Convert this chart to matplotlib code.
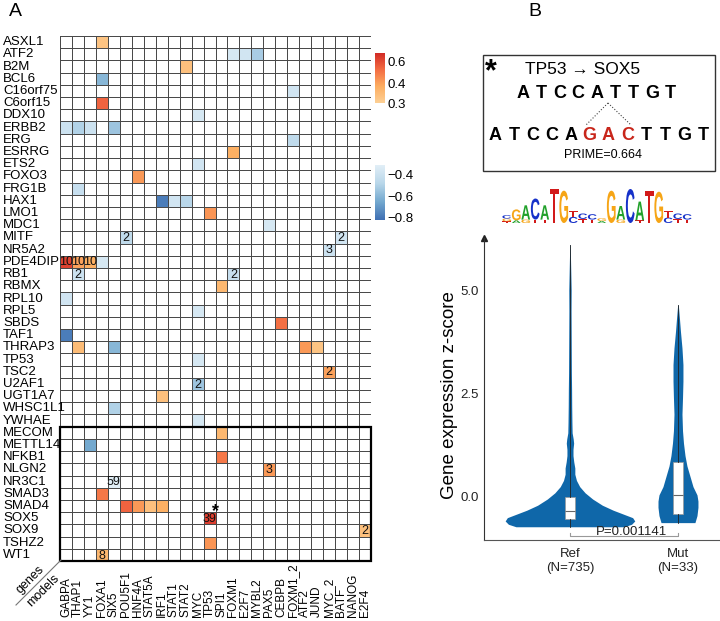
import numpy as np
import matplotlib
matplotlib.use("Agg")
import matplotlib.pyplot as plt
from matplotlib.colors import LinearSegmentedColormap, ListedColormap, Normalize
from matplotlib.patches import Rectangle, PathPatch
from matplotlib.lines import Line2D
from matplotlib.textpath import TextPath
from matplotlib.font_manager import FontProperties
from matplotlib.transforms import Affine2D, blended_transform_factory

plt.rcParams['font.family'] = ['Liberation Sans', 'DejaVu Sans']

# ---------------- panel A data ----------------
genes = ["ASXL1", "ATF2", "B2M", "BCL6", "C16orf75", "C6orf15", "DDX10", "ERBB2",
         "ERG", "ESRRG", "ETS2", "FOXO3", "FRG1B", "HAX1", "LMO1", "MDC1", "MITF",
         "NR5A2", "PDE4DIP", "RB1", "RBMX", "RPL10", "RPL5", "SBDS", "TAF1",
         "THRAP3", "TP53", "TSC2", "U2AF1", "UGT1A7", "WHSC1L1", "YWHAE",
         "MECOM", "METTL14", "NFKB1", "NLGN2", "NR3C1", "SMAD3", "SMAD4", "SOX5",
         "SOX9", "TSHZ2", "WT1"]
boxed_genes = 11  # last rows framed in bold

models = ["GABPA", "THAP1", "YY1", "FOXA1", "SIX5", "POU5F1", "HNF4A", "STAT5A",
          "IRF1", "STAT1", "STAT2", "MYC", "TP53", "SPI1", "FOXM1", "E2F7", "MYBL2",
          "PAX5", "CEBPB", "FOXM1_2", "ATF2", "JUND", "MYC_2", "BATF", "NANOG", "E2F4"]

# significant hits: gene, model, correlation, number of mutations (blank = 1)
hit_gene = ["ASXL1", "ATF2", "ATF2", "ATF2", "B2M", "BCL6", "C16orf75", "C6orf15",
            "DDX10", "ERBB2", "ERBB2", "ERBB2", "ERBB2", "ERG", "ESRRG", "ETS2",
            "FOXO3", "FRG1B", "HAX1", "HAX1", "HAX1", "LMO1", "MDC1", "MITF", "MITF",
            "NR5A2", "PDE4DIP", "PDE4DIP", "PDE4DIP", "PDE4DIP", "RB1", "RB1", "RBMX",
            "RPL10", "RPL5", "SBDS", "TAF1", "THRAP3", "THRAP3", "THRAP3", "THRAP3",
            "TP53", "TSC2", "U2AF1", "UGT1A7", "WHSC1L1", "YWHAE", "MECOM", "METTL14",
            "NFKB1", "NLGN2", "NR3C1", "SMAD3", "SMAD4", "SMAD4", "SMAD4", "SMAD4",
            "SOX5", "SOX9", "TSHZ2", "WT1"]
hit_model = ["FOXA1", "FOXM1", "E2F7", "MYBL2", "STAT2", "FOXA1", "FOXM1_2", "FOXA1",
             "MYC", "GABPA", "THAP1", "YY1", "SIX5", "FOXM1_2", "FOXM1", "MYC",
             "HNF4A", "THAP1", "IRF1", "STAT1", "STAT2", "TP53", "PAX5", "POU5F1", "BATF",
             "MYC_2", "GABPA", "THAP1", "YY1", "FOXA1", "THAP1", "FOXM1", "SPI1",
             "GABPA", "MYC", "CEBPB", "GABPA", "THAP1", "SIX5", "ATF2", "JUND",
             "MYC", "MYC_2", "MYC", "IRF1", "SIX5", "MYC", "SPI1", "YY1",
             "SPI1", "PAX5", "SIX5", "FOXA1", "POU5F1", "HNF4A", "STAT5A", "IRF1",
             "TP53", "E2F4", "TP53", "FOXA1"]
hit_corr = [0.33, -0.36, -0.38, -0.52, 0.34, -0.60, -0.38, 0.55,
            -0.36, -0.40, -0.50, -0.40, -0.55, -0.45, 0.38, -0.38,
            0.42, -0.42, -0.78, -0.38, -0.48, 0.43, -0.36, -0.45, -0.38,
            -0.40, 0.63, 0.40, 0.38, -0.36, -0.40, -0.42, 0.36,
            -0.38, -0.36, 0.52, -0.78, 0.35, -0.60, 0.42, 0.33,
            -0.36, 0.40, -0.55, 0.34, -0.50, -0.36, 0.36, -0.65,
            0.50, 0.42, -0.32, 0.50, 0.55, 0.42, 0.34, 0.38,
            0.64, 0.34, 0.43, 0.36]
hit_count = ["", "", "", "", "", "", "", "",
             "", "", "", "", "", "", "", "",
             "", "", "", "", "", "", "", "2", "2",
             "3", "10", "10", "10", "", "2", "2", "",
             "", "", "", "", "", "", "", "",
             "", "2", "2", "", "", "", "", "",
             "", "3", "59", "", "", "", "", "",
             "39", "2", "", "8"]
star_hit = ("SOX5", "TP53")

pos_ticks = [0.3, 0.4, 0.6]
neg_ticks = [-0.4, -0.6, -0.8]

# ---------------- panel B data ----------------
ref_seq = "ATCCATTGT"
mut_seq = "ATCCAGACTTGT"
mut_span = (5, 8)
prime_score = 0.664

logo_letters = ["TGC", "AG", "GA", "TC", "TA", "T", "G", "CT", "TC", "TC",
                "AG", "G", "GA", "C", "TA", "T", "G", "CT", "TC", "TC"]
logo_heights = [[0.05, 0.08, 0.10], [0.08, 0.32], [0.10, 0.42], [0.10, 0.62],
                [0.10, 0.42], [1.0], [0.95], [0.18, 0.18], [0.12, 0.16], [0.10, 0.16],
                [0.06, 0.08], [0.95], [0.10, 0.40], [1.0], [0.08, 0.55], [0.95],
                [0.92], [0.16, 0.18], [0.12, 0.16], [0.10, 0.16]]

groups = ["Ref\n(N=735)", "Mut\n(N=33)"]
ref_y = [-0.72, -0.66, -0.58, -0.50, -0.42, -0.32, -0.20, -0.05, 0.10, 0.25, 0.40,
         0.55, 0.70, 0.85, 1.00, 1.15, 1.30, 1.40, 1.55, 1.80, 2.20, 2.60, 3.00,
         3.50, 4.00, 4.50, 5.00, 5.50, 6.10]
ref_hw = [0.50, 0.57, 0.60, 0.58, 0.50, 0.40, 0.30, 0.21, 0.14, 0.09, 0.06,
          0.045, 0.045, 0.035, 0.028, 0.028, 0.034, 0.030, 0.020, 0.018, 0.016,
          0.015, 0.013, 0.012, 0.011, 0.010, 0.011, 0.007, 0.002]
mut_y = [-0.62, -0.45, -0.25, -0.10, 0.05, 0.25, 0.50, 0.75, 1.00, 1.30, 1.60,
         2.00, 2.40, 2.80, 3.20, 3.60, 4.00, 4.30, 4.64]
mut_hw = [0.157, 0.176, 0.185, 0.185, 0.176, 0.139, 0.111, 0.083, 0.065, 0.051,
          0.042, 0.037, 0.042, 0.046, 0.046, 0.037, 0.023, 0.014, 0.003]
ref_box = dict(q1=-0.53, med=-0.34, q3=0.0, whislo=-0.72, whishi=6.10)
mut_box = dict(q1=-0.41, med=0.05, q3=0.85, whislo=-0.62, whishi=4.64)
p_value = "P=0.001141"

# ---------------- figure ----------------
W, H = 720, 621
fig = plt.figure(figsize=(W / 100, H / 100), dpi=100)


def fx(px):
    return px / W


def fy(py):
    return 1 - py / H


def box(x0, y0, x1, y1):
    return [fx(x0), fy(y1), (x1 - x0) / W, (y1 - y0) / H]


# colour maps
pos_cmap = LinearSegmentedColormap.from_list("pos", ["#FDD095", "#FDAE61", "#F46D43", "#D22B26"])
neg_cmap = LinearSegmentedColormap.from_list("neg", ["#3F6FB3", "#74A9CF", "#B9D7EA", "#E2EFF7"])
pos_x, pos_f = [0.3, 0.4, 0.6, 0.69], [0.0, 0.4, 0.82, 1.0]
neg_lo, neg_hi = -0.82, -0.31

# ---- heatmap ----
ax = fig.add_axes(box(60, 36, 371, 561))
nr, nc = len(genes), len(models)
pos = np.full((nr, nc), np.nan)
neg = np.full((nr, nc), np.nan)
for g, m, v in zip(hit_gene, hit_model, hit_corr):
    r, c = genes.index(g), models.index(m)
    if v > 0:
        pos[r, c] = v
    else:
        neg[r, c] = v

grid_kw = dict(edgecolors="#4a4a4a", linewidth=0.7)
ax.pcolormesh(np.zeros((nr, nc)), cmap=ListedColormap(["white"]), **grid_kw)
ax.pcolormesh(np.ma.masked_invalid(np.interp(pos, pos_x, pos_f)), cmap=pos_cmap,
              norm=Normalize(0, 1), **grid_kw)
ax.pcolormesh(np.ma.masked_invalid(neg), cmap=neg_cmap,
              norm=Normalize(neg_lo, neg_hi), **grid_kw)
ax.set_xlim(0, nc)
ax.set_ylim(nr, 0)
ax.set_xticks([])
ax.set_yticks([])
for s in ax.spines.values():
    s.set_visible(False)

for g, m, lab in zip(hit_gene, hit_model, hit_count):
    if lab:
        ax.text(models.index(m) + 0.5, genes.index(g) + 0.55, lab, ha="center",
                va="center", fontsize=9, color="#111")
sr, sc = genes.index(star_hit[0]), models.index(star_hit[1])
ax.text(sc + 1.0, sr - 0.05, "*", ha="center", va="center", fontsize=13,
        fontweight="bold")

ax.add_patch(Rectangle((0, nr - boxed_genes), nc, boxed_genes, fill=False,
                       ec="black", lw=1.6, clip_on=False))

row_tr = blended_transform_factory(fig.transFigure, ax.transData)
for i, g in enumerate(genes):
    ax.text(fx(3), i + 0.5, g, transform=row_tr, ha="left", va="center", fontsize=9.5)
col_tr = blended_transform_factory(ax.transData, fig.transFigure)
for j, m in enumerate(models):
    ax.text(j + 0.5, fy(617), m, transform=col_tr, rotation=90, ha="center",
            va="bottom", fontsize=8.5)

# corner labels
fig.add_artist(Line2D([fx(61), fx(16)], [fy(560), fy(605)], color="#777", lw=0.8))
fig.text(fx(30), fy(580), "genes", rotation=45, ha="center", va="center", fontsize=9)
fig.text(fx(43), fy(591), "models", rotation=45, ha="center", va="center", fontsize=9)

# colour bars
grad = np.linspace(0, 1, 256)[:, None]
pcax = fig.add_axes(box(375, 53, 385, 103))
pcax.imshow(grad, cmap=pos_cmap, aspect="auto", origin="lower", extent=[0, 1, 0, 1])
pcax.set_xticks([])
pcax.yaxis.tick_right()
pcax.set_yticks(np.interp(pos_ticks, pos_x, pos_f), [f"{t:.1f}" for t in pos_ticks])
pcax.tick_params(length=0, labelsize=9.5, pad=2)
for s in pcax.spines.values():
    s.set_visible(False)

ncax = fig.add_axes(box(375, 165, 385, 220))
ncax.imshow(grad, cmap=neg_cmap, aspect="auto", origin="lower",
            extent=[0, 1, neg_lo, neg_hi])
ncax.set_xticks([])
ncax.yaxis.tick_right()
ncax.set_yticks(neg_ticks, [f"\u2212{abs(t):.1f}" for t in neg_ticks])
ncax.tick_params(length=0, labelsize=9.5, pad=2)
for s in ncax.spines.values():
    s.set_visible(False)

fig.text(fx(15), fy(12), "A", fontsize=14, ha="center", va="center")
fig.text(fx(535), fy(12), "B", fontsize=14, ha="center", va="center")

# ---- panel B: mutation box ----
fig.add_artist(Rectangle((fx(483), fy(171)), (715 - 483) / W, (171 - 55) / H,
                         fill=False, ec="#333", lw=1.0, transform=fig.transFigure))
fig.text(fx(491), fy(72), "*", fontsize=22, fontweight="bold", ha="center", va="center")
fig.text(fx(583), fy(70), "TP53 \u2192 SOX5", fontsize=12.5, ha="center", va="center")
for i, ch in enumerate(ref_seq):
    fig.text(fx(523 + 18.4 * i), fy(93), ch, fontsize=13, fontweight="bold",
             ha="center", va="center")
for i, ch in enumerate(mut_seq):
    col = "#C8261B" if mut_span[0] <= i < mut_span[1] else "black"
    fig.text(fx(495 + 18.9 * i), fy(135), ch, fontsize=13, fontweight="bold",
             ha="center", va="center", color=col)
for xe in (586, 631):
    fig.add_artist(Line2D([fx(608), fx(xe)], [fy(103), fy(125)], ls=":", lw=0.8,
                          color="#444"))
fig.text(fx(603), fy(155), f"PRIME={prime_score}", fontsize=9, ha="center", va="center")

# ---- sequence logo ----
logo_colors = {"A": "#22A12B", "C": "#1631C9", "G": "#F6A516", "T": "#D21A1A"}
fp = FontProperties(family="Liberation Sans", weight="bold")
lax = fig.add_axes(box(502, 189, 692, 223))
lax.set_xlim(0, len(logo_letters))
lax.set_ylim(0, 1)
lax.axis("off")
for k, (letters, hs) in enumerate(zip(logo_letters, logo_heights)):
    y0 = 0
    for ch, h in zip(letters, hs):
        tp = TextPath((0, 0), ch, size=1, prop=fp)
        bb = tp.get_extents()
        tr = Affine2D().translate(-bb.x0, -bb.y0).scale(0.92 / bb.width, h / bb.height) \
            .translate(k + 0.04, y0)
        lax.add_patch(PathPatch(tr.transform_path(tp), fc=logo_colors[ch], ec="none"))
        y0 += h

# ---- violin plot ----
blue = "#0F67A9"
vax = fig.add_axes(box(484, 238, 720, 540))
vax.fill_betweenx(ref_y, -np.array(ref_hw), np.array(ref_hw), color=blue, lw=0)
vax.fill_betweenx(mut_y, 1 - np.array(mut_hw), 1 + np.array(mut_hw), color=blue, lw=0)
stats = [dict(ref_box, fliers=[]), dict(mut_box, fliers=[])]
vax.bxp(stats, positions=[0, 1], widths=0.1, patch_artist=True, showcaps=False,
        boxprops=dict(facecolor="white", edgecolor="#999", lw=0.5),
        medianprops=dict(color="#666", lw=0.8),
        whiskerprops=dict(color="#222", lw=0.6))
vax.set_xlim(-0.796, 1.389)
vax.set_ylim(-1.04, 6.26)
vax.spines["top"].set_visible(False)
vax.spines["right"].set_visible(False)
vax.spines["left"].set_color("#333")
vax.spines["bottom"].set_color("#555")
vax.plot(0, 1, marker="^", ms=4, color="#222", transform=vax.transAxes, clip_on=False)
vax.set_yticks([0, 2.5, 5.0], ["0.0", "2.5", "5.0"])
vax.set_xticks([0, 1], groups)
vax.tick_params(length=0, labelsize=9.5, colors="#222", pad=6)
vax.tick_params(axis="y", pad=4)
vax.plot([0, 0, 1, 1], [-0.87, -0.94, -0.94, -0.87], color="#999", lw=0.8, clip_on=False)
vax.text(0.565, -0.92, p_value, ha="center", va="baseline", fontsize=9.5, color="#222")
fig.text(fx(449), fy(395), "Gene expression z-score", rotation=90, fontsize=13.5,
         ha="center", va="center")

fig.savefig("out.png", dpi=100)
